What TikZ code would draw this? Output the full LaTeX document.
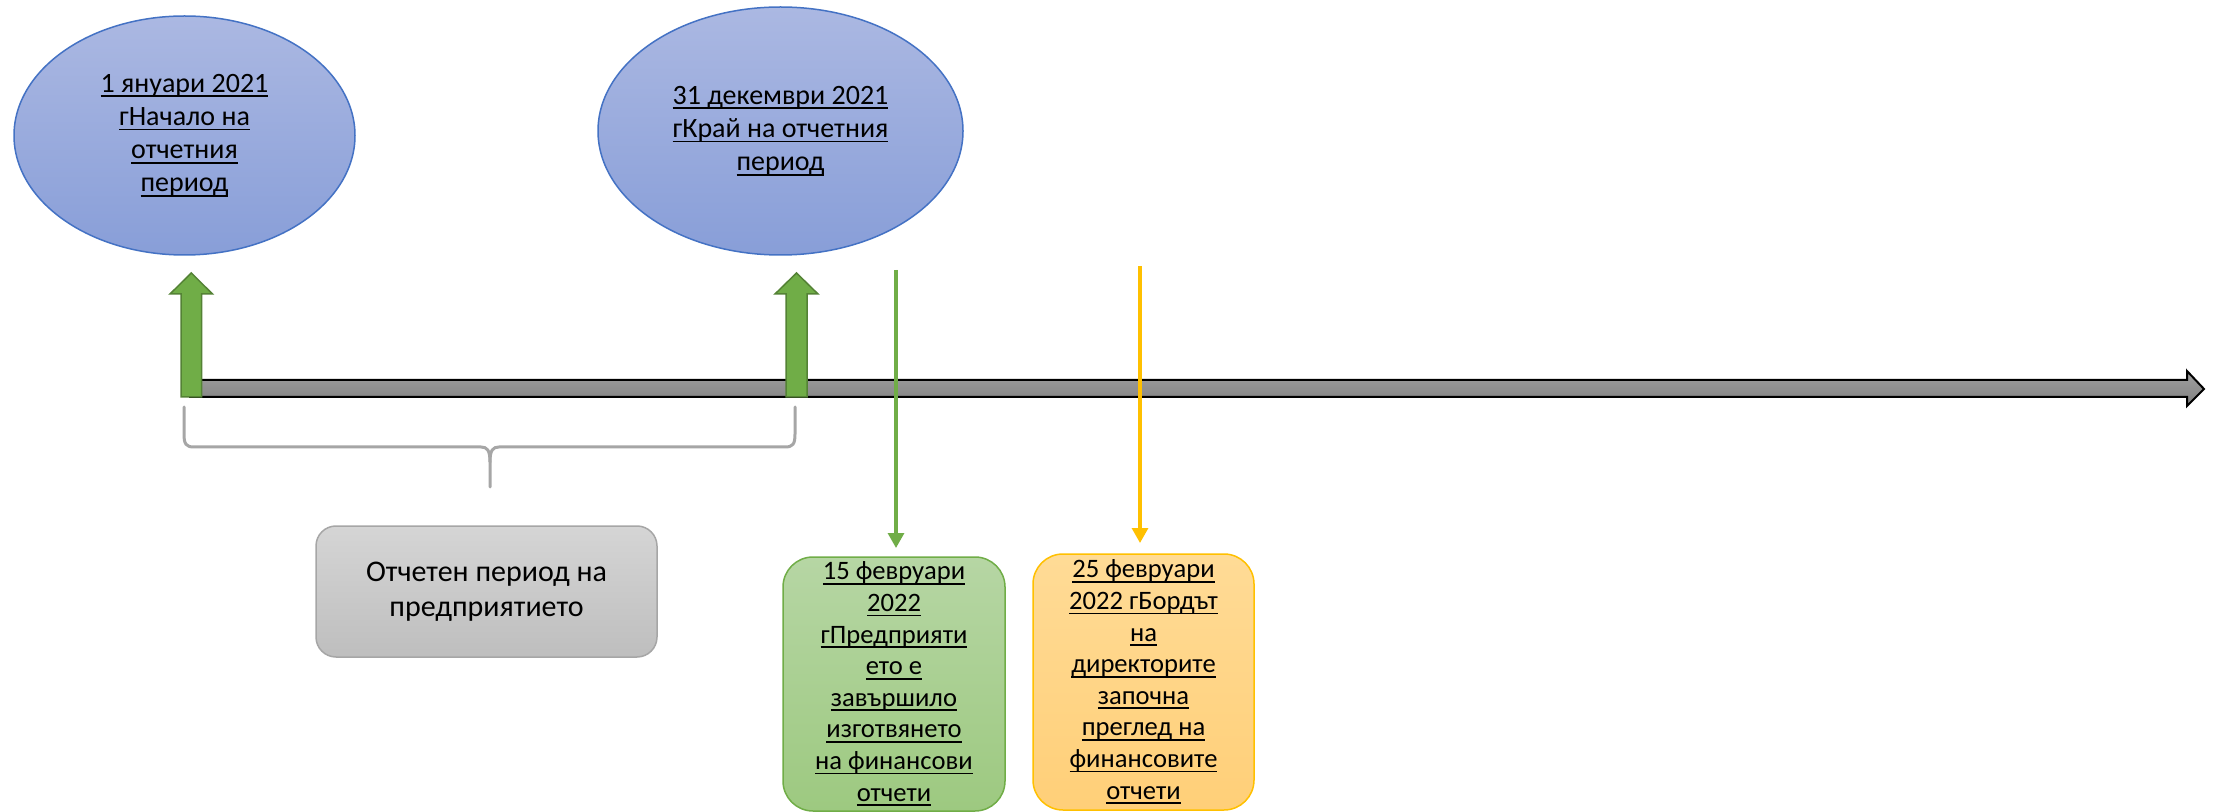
\documentclass[tikz,border=0pt]{standalone}
\usepackage{fontspec}
\setmainfont{Carlito}
\usetikzlibrary{arrows.meta,shapes.geometric}
\definecolor{ellTop}{RGB}{171,184,226}
\definecolor{ellBot}{RGB}{136,158,216}
\definecolor{ellLine}{RGB}{68,114,196}
\definecolor{barTop}{RGB}{160,160,160}
\definecolor{barBot}{RGB}{128,128,128}
\definecolor{grn}{RGB}{112,173,71}
\definecolor{grnDark}{RGB}{84,130,53}
\definecolor{grnTop}{RGB}{182,214,164}
\definecolor{grnBot}{RGB}{157,201,128}
\definecolor{ylw}{RGB}{255,192,0}
\definecolor{ylwTop}{RGB}{255,219,150}
\definecolor{ylwBot}{RGB}{255,207,120}
\definecolor{gryTop}{RGB}{213,213,213}
\definecolor{gryBot}{RGB}{190,190,190}
\definecolor{gryLine}{RGB}{166,166,166}
\newsavebox\ulbox
\newcommand\ulx[1]{\sbox\ulbox{#1}\rlap{\rule[-2.4pt]{\wd\ulbox}{0.9pt}}\usebox\ulbox}
\begin{document}
\begin{tikzpicture}[x=0.5pt,y=-0.5pt,
  ell/.style={ellipse, draw=ellLine, line width=0.75pt, top color=ellTop, bottom color=ellBot,
    inner sep=0pt, align=center, font=\fontsize{14}{16.6}\selectfont},
  datebox/.style={rectangle, rounded corners=15pt, line width=0.75pt, inner sep=0pt,
    align=center, font=\fontsize{13.3}{15.8}\selectfont},
  bigarrow/.style={draw=grnDark, fill=grn, line width=0.75pt},
  brace/.style={draw=gryLine, line width=1.5pt, line cap=round, line join=round},
  thinarrow/.style={line width=1.6pt, -{Triangle[length=7.5pt,width=8pt]}}
]
\useasboundingbox (0,0) rectangle (2217,812);
\fill[white] (0,0) rectangle (2217,812);

% timeline bar
\draw[line width=1pt, top color=barTop, bottom color=barBot]
  (190,380) -- (2187,380) -- (2187,371) -- (2204,389) -- (2187,406) -- (2187,397) -- (190,397) -- cycle;

% ellipses
\node[ell, minimum width=170.5pt, minimum height=119.5pt] (e1) at (184.5,135.5)
  {\ulx{1 януари 2021}\\ \ulx{гНачало на}\\ \ulx{отчетния}\\ \ulx{период}};
\node[ell, minimum width=182.5pt, minimum height=124pt] (e2) at (780.5,131)
  {\ulx{31 декември 2021}\\ \ulx{гКрай на отчетния}\\ \ulx{период}};

% green block arrows
\draw[bigarrow] (181,397) -- (181,294) -- (170,294) -- (191.3,273) -- (212.5,294) -- (201.5,294) -- (201.5,397) -- cycle;
\draw[bigarrow] (786.2,397) -- (786.2,294) -- (775,294) -- (796.5,273) -- (818,294) -- (807,294) -- (807,397) -- cycle;

% brace
\draw[brace] (184,407) -- (184,434) .. controls (184,444) and (186,447) .. (194,447) -- (481,447)
  .. controls (487,447) and (490,450) .. (490,462) -- (490,487);
\draw[brace] (795,407) -- (795,434) .. controls (795,444) and (793,447) .. (785,447) -- (499,447)
  .. controls (493,447) and (490,450) .. (490,462);

% gray box
\node[rectangle, rounded corners=10pt, draw=gryLine, line width=0.75pt, top color=gryTop, bottom color=gryBot,
  minimum width=170.5pt, minimum height=65.5pt, inner sep=0pt, align=center,
  font=\fontsize{15}{17.5}\selectfont] (period) at (486.5,591.5)
  {Отчетен период на\\ предприятието};

% date boxes
\node[datebox, draw=grn, top color=grnTop, bottom color=grnBot, minimum width=111pt, minimum height=127pt]
  (gbox) at (894,684)
  {\ulx{15 февруари}\\ \ulx{2022}\\ \ulx{гПредприяти}\\ \ulx{ето е}\\ \ulx{завършило}\\ \ulx{изготвянето}\\ \ulx{на финансови}\\ \ulx{отчети}};
\node[datebox, draw=ylw, top color=ylwTop, bottom color=ylwBot, minimum width=110.5pt, minimum height=128pt]
  (ybox) at (1143.5,682)
  {\ulx{25 февруари}\\ \ulx{2022 гБордът}\\ \ulx{на}\\ \ulx{директорите}\\ \ulx{започна}\\ \ulx{преглед на}\\ \ulx{финансовите}\\ \ulx{отчети}};

% thin arrows
\coordinate (g0) at (896,270);
\coordinate (g1) at (896,548);
\coordinate (y0) at (1140,266);
\coordinate (y1) at (1140,543);
\draw[thinarrow, draw=grn, fill=grn] (g0) -- (g1);
\draw[thinarrow, draw=ylw, fill=ylw] (y0) -- (y1);
\end{tikzpicture}
\end{document}
